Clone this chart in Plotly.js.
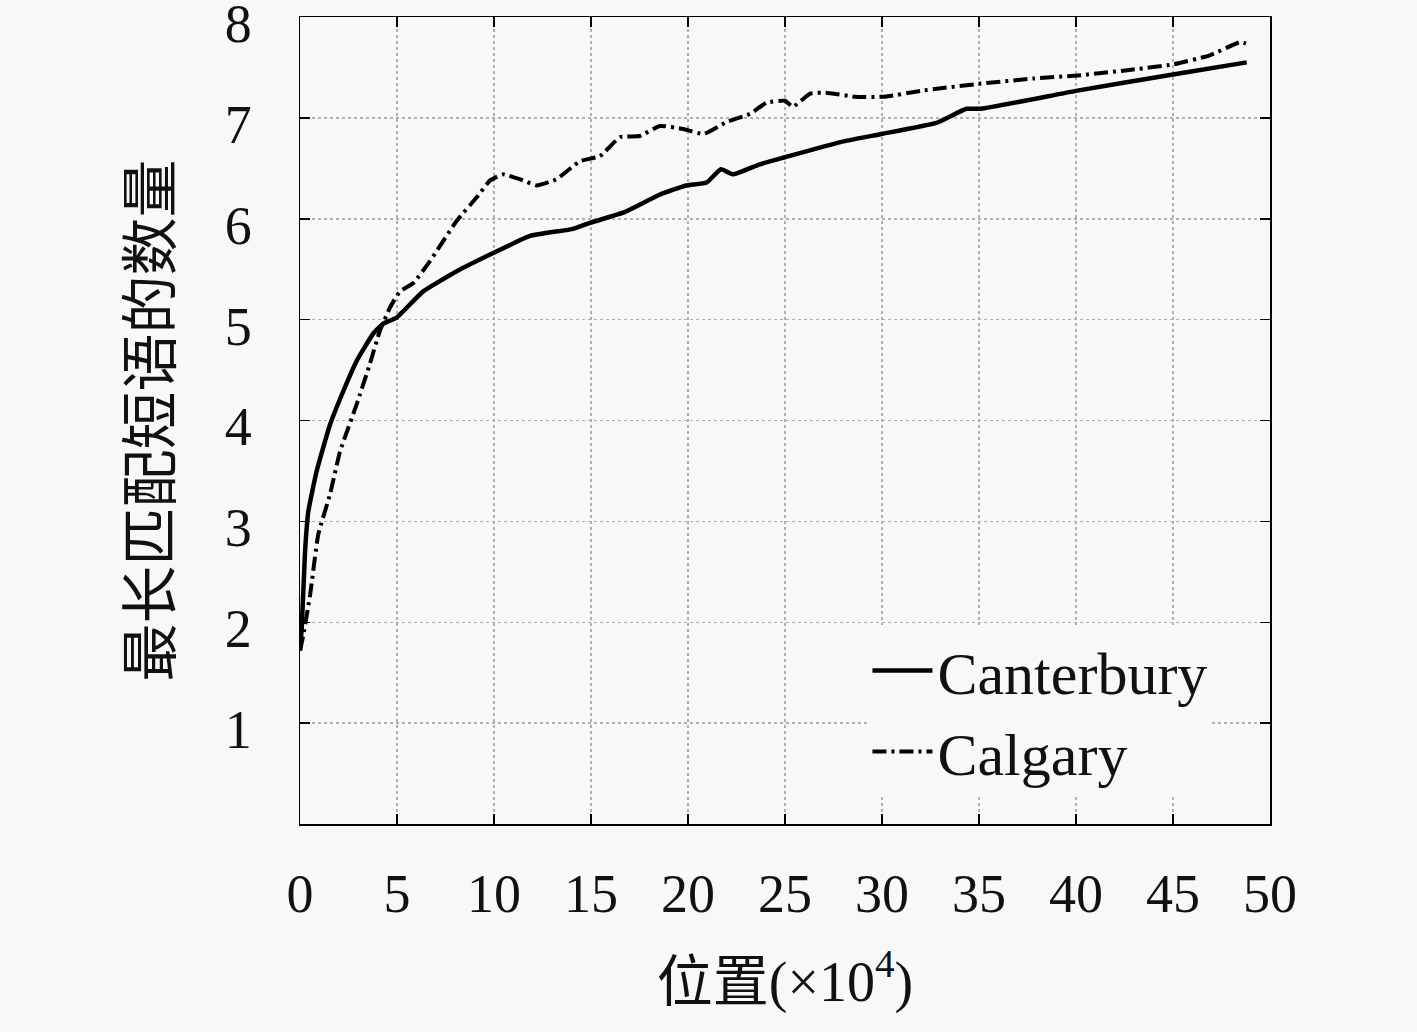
<!DOCTYPE html>
<html>
<head>
<meta charset="utf-8">
<script src="https://cdn.plot.ly/plotly-3.0.1.min.js"></script>
<style>
  html, body { margin: 0; padding: 0; background: #f8f8f8; }
  #chart { width: 1417px; height: 1032px; }
</style>
</head>
<body>
<div id="chart"></div>
<script>
// position in units of 10^4
const canterbury_x = [0, 0.09, 0.26, 0.43, 0.86, 1.55, 2.23, 2.92, 3.77, 4.29, 4.98, 6.35, 8.08, 9.96,
    11.86, 14.08, 14.95, 16.66, 18.56, 19.9, 20.96, 21.7, 22.3, 23.7, 25.0, 27.86, 29.97, 32.8, 34.35,
    35.1, 40.07, 45.0, 48.8];
const canterbury_y = [1.72, 1.95, 2.7, 3.1, 3.5, 3.96, 4.29, 4.59, 4.86, 4.96, 5.02, 5.28, 5.48, 5.66,
    5.83, 5.90, 5.96, 6.06, 6.24, 6.33, 6.36, 6.49, 6.44, 6.54, 6.61, 6.76, 6.84, 6.95, 7.09,
    7.09, 7.27, 7.43, 7.55];

const calgary_x = [0, 0.17, 0.52, 0.94, 1.55, 2.06, 2.92, 3.6, 4.12, 4.64, 5.15, 5.83, 6.7, 8.08, 9.1,
    9.8, 10.46, 11.5, 12.2, 13.2, 14.43, 15.46, 16.5, 17.5, 18.56, 19.76, 20.8, 22.0, 23.2, 24.05,
    25.0, 25.4, 26.3, 27.1, 28.6, 30.15, 32.06, 35.1, 37.8, 40.07, 42.55, 45.0, 46.9, 48.45, 49.0];
const calgary_y = [1.72, 1.87, 2.27, 2.87, 3.27, 3.69, 4.16, 4.56, 4.89, 5.12, 5.28, 5.36, 5.58, 5.98, 6.21,
    6.38, 6.44, 6.38, 6.33, 6.39, 6.57, 6.62, 6.81, 6.82, 6.92, 6.89, 6.84, 6.96, 7.04, 7.15,
    7.17, 7.11, 7.24, 7.25, 7.21, 7.21, 7.27, 7.34, 7.39, 7.42, 7.47, 7.53, 7.62, 7.75, 7.72];

const x_ticks = [0, 5, 10, 15, 20, 25, 30, 35, 40, 45, 50];
const y_ticks = [1, 2, 3, 4, 5, 6, 7, 8];

const serif = '"Liberation Serif", "Noto Sans CJK SC", serif';
const bg = '#f8f8f8';

const axis_common = {
    showline: true,
    linecolor: '#000',
    linewidth: 1.5,
    mirror: 'ticks',
    ticks: 'inside',
    ticklen: 10,
    tickwidth: 1.5,
    tickcolor: '#000',
    showgrid: true,
    gridcolor: '#b0b0b0',
    griddash: 'dot',
    gridwidth: 1.5,
    zeroline: false,
    ticklabeloverflow: 'allow',
    tickfont: {family: serif, size: 54, color: '#111'},
};

const traces = [
    {
        x: canterbury_x,
        y: canterbury_y,
        name: 'Canterbury',
        mode: 'lines',
        type: 'scatter',
        line: {color: '#000', width: 4.5, shape: 'spline', smoothing: 0.4},
    },
    {
        x: calgary_x,
        y: calgary_y,
        name: 'Calgary',
        mode: 'lines',
        type: 'scatter',
        line: {color: '#000', width: 4, dash: '14px,5px,3px,5px', shape: 'spline', smoothing: 0.4},
    },
];

const layout = {
    width: 1417,
    height: 1032,
    margin: {l: 300, r: 147, t: 17, b: 208},
    paper_bgcolor: bg,
    plot_bgcolor: bg,
    showlegend: true,
    legend: {
        x: 0.585, y: 0.2466, xanchor: 'left', yanchor: 'top',
        bgcolor: bg,
        borderwidth: 0,
        font: {family: serif, size: 60, color: '#111'},
        itemwidth: 60,
        tracegroupgap: 4,
    },
    xaxis: {
        ...axis_common,
        range: [0, 50],
        tickvals: x_ticks,
        ticktext: x_ticks.map(String),
        ticklabelstandoff: 22,
        title: {text: '位置(×10<sup>4</sup>)', font: {family: serif, size: 56, color: '#111'}, standoff: 38},
    },
    yaxis: {
        ...axis_common,
        range: [0, 8],
        tickvals: y_ticks,
        ticktext: y_ticks.map(String),
        ticklabelstandoff: 36,
        ticklabelshift: 6,
        title: {text: '最长匹配短语的数量', font: {family: serif, size: 58, color: '#111'}, standoff: 34},
    },
};

Plotly.newPlot('chart', traces, layout, {displayModeBar: false, staticPlot: true});
</script>
</body>
</html>
